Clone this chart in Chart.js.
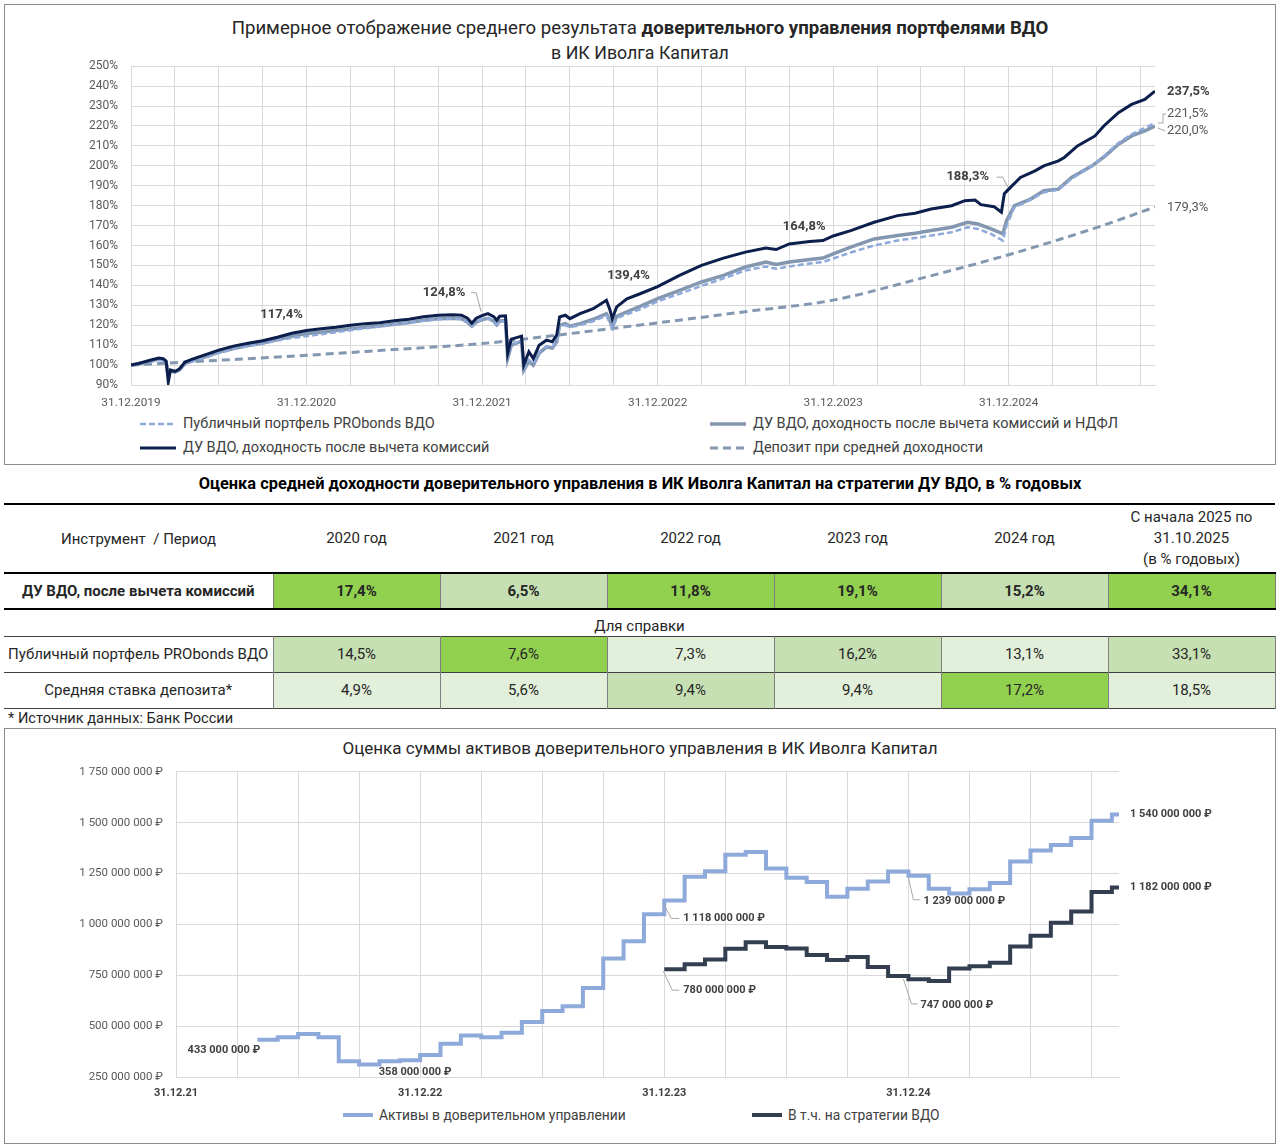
<!DOCTYPE html>
<html>
  <head>
    <meta charset="utf-8" />
    <title>ДУ ВДО — Иволга Капитал</title>
    <script src="https://cdn.jsdelivr.net/npm/chart.js"></script>
    <style>
      body { margin: 0; width: 1280px; height: 1148px; position: relative; background: #fff; overflow: hidden;
             font-family: Roboto, "Noto Sans", "DejaVu Sans", sans-serif; color: #262626; }
      .abs { position: absolute; }
      .box { position: absolute; border: 1px solid #8c8c8c; box-sizing: border-box; }
      .title { position: absolute; left: 0; width: 1280px; text-align: center; font-size: 18.6px; line-height: 22px; }
      .leg { position: absolute; display: flex; align-items: center; font-size: 14.5px; color: #404040; white-space: nowrap; }
      table { position: absolute; left: 4px; top: 503px; width: 1271px; border-collapse: collapse; table-layout: fixed; font-size: 15px; }
      td { text-align: center; vertical-align: middle; padding: 0; }
    </style>
  </head>
  <body>
    <div class="box" style="left:4px;top:4px;width:1272px;height:461px"></div>
    <div class="title" style="top:17px">Примерное отображение среднего результата <b>доверительного управления портфелями ВДО</b></div>
    <div class="title" style="top:42px;font-size:17.8px">в ИК Иволга Капитал</div>
    <canvas id="top-chart" class="abs" width="1272" height="369" style="left:4px;top:46px"></canvas>
    <div id="top-legend"></div>

    <div class="title" style="top:473px;font-size:16.4px;font-weight:bold;color:#000">Оценка средней доходности доверительного управления в ИК Иволга Капитал на стратегии ДУ ВДО, в % годовых</div>
    <table id="yield-table"></table>
    <div class="abs" style="left:8px;top:709px;font-size:14.6px">* Источник данных: Банк России</div>

    <div class="box" style="left:4px;top:728px;width:1272px;height:416px"></div>
    <div class="title" style="top:737px;font-size:17px">Оценка суммы активов доверительного управления в ИК Иволга Капитал</div>
    <canvas id="aum-chart" class="abs" width="1272" height="353" style="left:4px;top:752px"></canvas>
    <div id="aum-legend"></div>

    <script>
      // верхний график: x = месяцы от 31.12.2019, y = % от начальной суммы
      var topYearLabels = ['31.12.2019', '31.12.2020', '31.12.2021', '31.12.2022', '31.12.2023', '31.12.2024'];

      var publicPortfolio = [[0,100],[0.5,100.4],[1,101],[1.5,102],[1.9,102.5],[2.2,102.3],[2.4,101],[2.55,96],[2.7,97.5],[3,97],[3.3,98],[3.7,100.5],[4.2,101.8],[5,103.5],[6,106],[7,108],[8,109.5],[9,110.7],[10,112.3],[11,113.6],[12,114.5],[13,115.5],[14,116.5],[15,117.5],[16,118.5],[17,119.3],[18,120.3],[19,121.2],[20,122.3],[21,123],[22,123.3],[22.6,123],[23,121.5],[23.3,119.5],[23.6,121.8],[24,123.2],[24.4,123.5],[24.8,122],[25,120.5],[25.2,122],[25.6,122],[25.75,104.5],[26,110.5],[26.7,112],[26.85,98],[27.2,102.5],[27.5,100.5],[27.9,106.5],[28.4,109.5],[28.8,109],[29.1,112],[29.3,119.5],[29.7,120],[30,119],[30.7,120],[31.6,122],[32.5,124.8],[32.75,121],[32.9,118.5],[33.2,123.5],[33.9,125.5],[34.8,128],[36,132],[37.5,135.8],[39,139.7],[40.5,143.5],[42,147.5],[43.4,149.5],[44.1,148.3],[45,149.5],[46.4,151],[47.3,151.7],[48,153.5],[49.2,156.5],[50.8,160],[52.4,162.5],[53.6,163.8],[54.7,165],[56.1,166.7],[57.2,169.2],[57.9,168.3],[58.8,165.8],[59.6,162.5],[59.85,170],[60.4,179.2],[61.5,183],[62.4,186.7],[63.4,188],[64.3,193.5],[65.7,200],[66.6,205.5],[67.5,211.5],[68.4,215.8],[69.3,219],[70,221.5]];

      var netOfFeesAndTax = [[0,100],[0.5,100.5],[1,101.3],[1.5,102.3],[1.9,103],[2.2,102.8],[2.4,101.5],[2.55,95],[2.7,97],[3,96.5],[3.3,97.5],[3.7,100.8],[4.2,102.2],[5,104],[6,106.5],[7,108.3],[8,109.8],[9,111],[10,112.8],[11,114.5],[12,115.8],[13,116.5],[14,117.3],[15,118.2],[16,119],[17,119.6],[18,120.5],[19,121.3],[20,122.5],[21,123.3],[22,123.5],[22.6,123.2],[23,121.5],[23.3,119.5],[23.6,121.5],[24,122.8],[24.4,123.5],[24.8,122],[25,120.3],[25.2,122.2],[25.6,122.4],[25.75,103.5],[26,110],[26.7,112],[26.85,97.5],[27.2,102],[27.5,100],[27.9,106],[28.4,109],[28.8,108.5],[29.1,111.7],[29.3,120],[29.7,120.8],[30,119.5],[30.7,120.8],[31.6,123],[32.5,125.8],[32.75,122],[32.9,119.2],[33.2,124.5],[33.9,126.7],[34.8,129.5],[36,133.3],[37.5,137.5],[39,141.7],[40.5,145],[42,149.2],[43.4,151.7],[44.1,150.5],[45,151.7],[46.4,153],[47.3,153.7],[48,155.8],[49.2,159.2],[50.8,163.3],[52.4,165],[53.6,166.2],[54.7,167.5],[56.1,169.2],[57.2,171.7],[57.9,170.8],[58.8,168.3],[59.6,165.8],[59.85,172.5],[60.4,180],[61.5,183.3],[62.4,187.5],[63.4,188.3],[64.3,194.2],[65.7,200],[66.6,205],[67.5,210.8],[68.4,215],[69.3,217.5],[70,220]];

      var netOfFees = [[0,100],[0.5,100.8],[1,101.8],[1.5,102.8],[1.9,103.5],[2.2,103.2],[2.4,102],[2.55,91.5],[2.7,97.5],[3,96.8],[3.3,98],[3.7,101.5],[4.2,103],[5,105],[6,107.5],[7,109.5],[8,111],[9,112.2],[10,114],[11,116],[12,117.4],[13,118.2],[14,119],[15,120],[16,120.8],[17,121.3],[18,122.2],[19,123],[20,124.2],[21,125],[22,125.3],[22.6,125],[23,123.5],[23.3,121],[23.6,123.5],[24,124.8],[24.4,125.8],[24.8,124.3],[25,122.5],[25.2,124.5],[25.6,124.7],[25.75,106],[26,113],[26.7,114.5],[26.85,100],[27.2,106.7],[27.5,103.3],[27.9,110],[28.4,112.5],[28.8,111.7],[29.1,115],[29.3,124.2],[29.7,125],[30,123.3],[30.7,125.8],[31.6,128.3],[32.5,132.5],[32.75,127.5],[32.9,123.3],[33.2,129.2],[33.9,133.3],[34.8,135.8],[36,139.4],[37.5,145],[39,150],[40.5,153.7],[42,156.7],[43.4,158.7],[44.1,158],[45,160.8],[46.4,162],[47.3,162.5],[48,164.8],[49.2,167.5],[50.8,171.7],[52.4,175],[53.6,176.2],[54.7,178.3],[56.1,180],[57,182.5],[57.7,182.8],[58.1,180.5],[59,179.5],[59.5,176.7],[59.7,186],[60,188.3],[60.8,194.2],[61.8,197.5],[62.4,200],[63.4,202.5],[63.8,204.2],[64.7,210],[65.9,215],[66.5,220],[67.5,226.7],[68.4,230.8],[69.3,233.3],[70,237.5]];

      var depositAvg = [[0,100],[6,102.4],[12,104.9],[18,107.8],[24,110.8],[30,115.8],[36,121.2],[42,126.8],[48,132.6],[54,143.5],[60,155.4],[66,169],[70,179.3]];

      // таблица доходностей, % годовых
      var tablePeriods = ['2020 год', '2021 год', '2022 год', '2023 год', '2024 год', 'С начала 2025 по\n31.10.2025\n(в % годовых)'];
      var rowNames = ['ДУ ВДО, после вычета комиссий', 'Публичный портфель PRObonds ВДО', 'Средняя ставка депозита*'];
      var yieldDU = [17.4, 6.5, 11.8, 19.1, 15.2, 34.1];
      var yieldPublic = [14.5, 7.6, 7.3, 16.2, 13.1, 33.1];
      var yieldDeposit = [4.9, 5.6, 9.4, 9.4, 17.2, 18.5];

      // нижний график: x = месяцы от 31.12.2021, y = млн ₽
      var aumYearLabels = ['31.12.21', '31.12.22', '31.12.23', '31.12.24'];
      var assetsStartMonth = 4;
      var assetsValues = [433,446,461,446,328,312,328,332,358,413,454,446,467,520,575,598,688,833,918,1050,1118,1234,1261,1343,1356,1275,1229,1209,1136,1176,1211,1260,1239,1176,1152,1173,1204,1309,1364,1390,1425,1510,1540];
      var vdoStartMonth = 24;
      var vdoValues = [780,804,828,881,912,889,882,850,825,840,791,747,730,722,783,794,812,891,944,1008,1064,1160,1182];
      var aumLastMonth = 46.35;

      var fontFamily = 'Roboto, "Noto Sans", "DejaVu Sans", sans-serif';
      Chart.defaults.font.family = fontFamily;
      Chart.defaults.color = '#595959';

      function pct(v) { return v.toFixed(1).replace('.', ',') + '%'; }
      function rub(v) { return String(Math.round(v * 1e6)).replace(/\B(?=(\d{3})+(?!\d))/g, ' ') + ' ₽'; }
      function toPoints(arr) { return arr.map(function (p) { return { x: p[0], y: p[1] }; }); }

      // подписи значений у выбранных точек (с выносками)
      function makePointLabels(items, size, format) {
        return {
          id: 'pointLabels',
          afterDatasetsDraw: function (chart) {
            var ctx = chart.ctx;
            items.forEach(function (it) {
              var pt = chart.data.datasets[it.ds].data.find(function (p) { return p.x === it.at; });
              if (!pt) return;
              var px = chart.scales.x.getPixelForValue(it.at + (it.shift || 0));
              var py = chart.scales.y.getPixelForValue(pt.y);
              ctx.save();
              if (it.leader) {
                ctx.strokeStyle = '#a6a6a6';
                ctx.lineWidth = 1;
                ctx.beginPath();
                it.leader.forEach(function (o, i) {
                  if (i === 0) ctx.moveTo(px + o[0], py + o[1]);
                  else ctx.lineTo(px + o[0], py + o[1]);
                });
                ctx.stroke();
              }
              ctx.font = (it.bold ? 'bold ' : '') + size + 'px ' + fontFamily;
              ctx.fillStyle = it.bold ? '#404040' : '#595959';
              ctx.textAlign = it.align || 'left';
              ctx.textBaseline = 'middle';
              ctx.fillText(format(pt.y), px + it.dx, py + it.dy);
              ctx.restore();
            });
          },
        };
      }

      // ---------- верхний график ----------
      var topLabelItems = [
        { ds: 2, at: 12, dx: -25, dy: -16, align: 'center', bold: true },
        { ds: 2, at: 24, dx: -38, dy: -23, align: 'center', bold: true, leader: [[-1, -4], [-6, -23], [-11, -23]] },
        { ds: 2, at: 36, dx: -29, dy: -11, align: 'center', bold: true },
        { ds: 2, at: 48, dx: -29, dy: -9, align: 'center', bold: true },
        { ds: 2, at: 60, dx: -41, dy: -12, align: 'center', bold: true, leader: [[-1, -2], [-6, -12], [-12, -12]] },
        { ds: 2, at: 70, dx: 12, dy: 1, bold: true },
        { ds: 0, at: 70, dx: 12, dy: -9, leader: [[3, 0], [8, 0], [8, -9], [11, -9]] },
        { ds: 1, at: 70, dx: 12, dy: 5, leader: [[3, 2], [10, 5]] },
        { ds: 3, at: 70, dx: 12, dy: 1 },
      ];

      var topChart = new Chart(document.getElementById('top-chart'), {
        type: 'line',
        data: {
          datasets: [
            { label: 'Публичный портфель PRObonds ВДО', data: toPoints(publicPortfolio), borderColor: '#8eaadb', borderWidth: 2.5, borderDash: [6, 3], order: 1 },
            { label: 'ДУ ВДО, доходность после вычета комиссий и НДФЛ', data: toPoints(netOfFeesAndTax), borderColor: '#8497b0', borderWidth: 3.5, order: 2 },
            { label: 'ДУ ВДО, доходность после вычета комиссий', data: toPoints(netOfFees), borderColor: '#0c1e4c', borderWidth: 3, order: 0 },
            { label: 'Депозит при средней доходности', data: toPoints(depositAvg), borderColor: '#8497b0', borderWidth: 3, borderDash: [8, 5], cubicInterpolationMode: 'monotone', order: 3 },
          ],
        },
        options: {
          responsive: false,
          animation: false,
          layout: { padding: { top: 2, right: 121, left: 0, bottom: 0 } },
          elements: { point: { radius: 0 }, line: { tension: 0 } },
          scales: {
            x: {
              type: 'linear', min: 0, max: 70,
              grid: { color: '#d9d9d9', drawTicks: false },
              border: { color: '#d9d9d9' },
              ticks: {
                stepSize: 3, includeBounds: false, autoSkip: false, maxRotation: 0, padding: 11,
                font: { size: 11.8 },
                callback: function (v) { return v % 12 === 0 ? topYearLabels[v / 12] : ''; },
              },
              afterFit: function (s) { s.height = 30; },
            },
            y: {
              min: 90, max: 250,
              grid: { color: '#d9d9d9', drawTicks: false },
              border: { display: false },
              ticks: { stepSize: 10, padding: 13, font: { size: 12 }, callback: function (v) { return v + '%'; } },
              afterFit: function (s) { s.width = 127; },
            },
          },
          plugins: { legend: { display: false }, tooltip: { enabled: false } },
        },
        plugins: [makePointLabels(topLabelItems, 13, pct)],
      });

      function legendSample(ds, w) {
        var dash = ds.borderDash ? ' stroke-dasharray="' + ds.borderDash.join(',') + '"' : '';
        return '<svg width="' + w + '" height="8"><line x1="0" y1="4" x2="' + w + '" y2="4" stroke="' + ds.borderColor +
          '" stroke-width="' + ds.borderWidth + '"' + dash + '/></svg>';
      }

      function buildLegend(el, chart, slots, sampleWidth, gap, fontSize) {
        el.innerHTML = slots.map(function (s) {
          var ds = chart.data.datasets[s.ds];
          return '<div class="leg" style="left:' + s.left + 'px;top:' + s.top + 'px;font-size:' + fontSize + 'px">' +
            legendSample(ds, sampleWidth) + '<span style="margin-left:' + gap + 'px">' + ds.label + '</span></div>';
        }).join('');
      }

      buildLegend(document.getElementById('top-legend'), topChart, [
        { ds: 0, left: 140, top: 415 }, { ds: 1, left: 710, top: 415 },
        { ds: 2, left: 140, top: 439 }, { ds: 3, left: 710, top: 439 },
      ], 36, 7, 14.5);

      // ---------- таблица ----------
      var shades = ['#e2efda', '#c6e0b4', '#92d050'];
      var shadeIndex = [[2, 1, 2, 2, 1, 2], [1, 2, 0, 1, 0, 1], [0, 0, 1, 0, 2, 0]];
      var rows = [yieldDU, yieldPublic, yieldDeposit];
      var html = '<colgroup><col style="width:269px">' + tablePeriods.map(function () { return '<col style="width:167px">'; }).join('') + '</colgroup>';
      html += '<tr style="height:69px;border-top:2px solid #000;border-bottom:2px solid #000"><td>Инструмент&nbsp; / Период</td>' +
        tablePeriods.map(function (p) { return '<td style="white-space:pre-line;line-height:21px">' + p + '</td>'; }).join('') + '</tr>';
      rows.forEach(function (r, i) {
        if (i === 1) {
          html += '<tr style="height:27px;border-bottom:1px solid #404040"><td colspan="7" style="vertical-align:bottom;padding-bottom:1px">Для справки</td></tr>';
        }
        var rowStyle = i === 0 ? 'height:36px;border-bottom:2px solid #000;font-weight:bold' : 'height:36px;border-bottom:1px solid #404040';
        html += '<tr style="' + rowStyle + '"><td style="border-right:1px solid #7f7f7f;white-space:nowrap">' + rowNames[i] + '</td>' +
          r.map(function (v, j) {
            return '<td style="background:' + shades[shadeIndex[i][j]] + ';border-right:1px solid #7f7f7f">' + pct(v) + '</td>';
          }).join('') + '</tr>';
      });
      document.getElementById('yield-table').innerHTML = html;

      // ---------- нижний график ----------
      function stepPoints(start, values) {
        var pts = values.map(function (v, i) { return { x: start + i, y: v }; });
        pts.push({ x: aumLastMonth, y: values[values.length - 1] });
        return pts;
      }

      var aumLabelItems = [
        { ds: 0, at: 4, dx: 3, dy: 10, align: 'right', bold: true },
        { ds: 0, at: 12, dx: -5, dy: 17, align: 'center', bold: true },
        { ds: 0, at: 24, dx: 19, dy: 18, bold: true, leader: [[-1, 3], [7, 18], [15, 18]] },
        { ds: 1, at: 24, dx: 19, dy: 21, bold: true, leader: [[-1, 2], [8, 21], [15, 21]] },
        { ds: 0, at: 36, dx: 15, dy: 25, bold: true, leader: [[0, 2], [5, 24], [12, 24]] },
        { ds: 1, at: 35, shift: 1, dx: 12, dy: 29, bold: true, leader: [[-5, 3], [3, 28], [9, 28]] },
        { ds: 0, at: aumLastMonth, dx: 11, dy: 0, bold: true },
        { ds: 1, at: aumLastMonth, dx: 11, dy: 0, bold: true },
      ];

      var aumChart = new Chart(document.getElementById('aum-chart'), {
        type: 'line',
        data: {
          datasets: [
            { label: 'Активы в доверительном управлении', data: stepPoints(assetsStartMonth, assetsValues), borderColor: '#8eaadb', borderWidth: 4, stepped: true },
            { label: 'В т.ч. на стратегии ВДО', data: stepPoints(vdoStartMonth, vdoValues), borderColor: '#333f50', borderWidth: 4, stepped: true },
          ],
        },
        options: {
          responsive: false,
          animation: false,
          layout: { padding: { top: 4, right: 157, left: 0, bottom: 0 } },
          elements: { point: { radius: 0 } },
          scales: {
            x: {
              type: 'linear', min: 0, max: aumLastMonth,
              grid: { color: '#d9d9d9', drawTicks: false },
              border: { color: '#d9d9d9' },
              ticks: {
                stepSize: 3, includeBounds: false, autoSkip: false, maxRotation: 0, padding: 10,
                color: '#404040', font: { size: 11, weight: 'bold' },
                callback: function (v) { return v % 12 === 0 ? aumYearLabels[v / 12] : ''; },
              },
              afterFit: function (s) { s.height = 28; },
            },
            y: {
              min: 250, max: 1750,
              grid: { color: '#d9d9d9', drawTicks: false },
              border: { display: false },
              ticks: { stepSize: 250, padding: 13, font: { size: 11.5 }, callback: function (v) { return rub(v); } },
              afterFit: function (s) { s.width = 172; },
            },
          },
          plugins: { legend: { display: false }, tooltip: { enabled: false } },
        },
        plugins: [makePointLabels(aumLabelItems, 11, rub)],
      });

      buildLegend(document.getElementById('aum-legend'), aumChart, [
        { ds: 0, left: 343, top: 1107 }, { ds: 1, left: 752, top: 1107 },
      ], 30, 6, 13.8);
    </script>
  </body>
</html>
